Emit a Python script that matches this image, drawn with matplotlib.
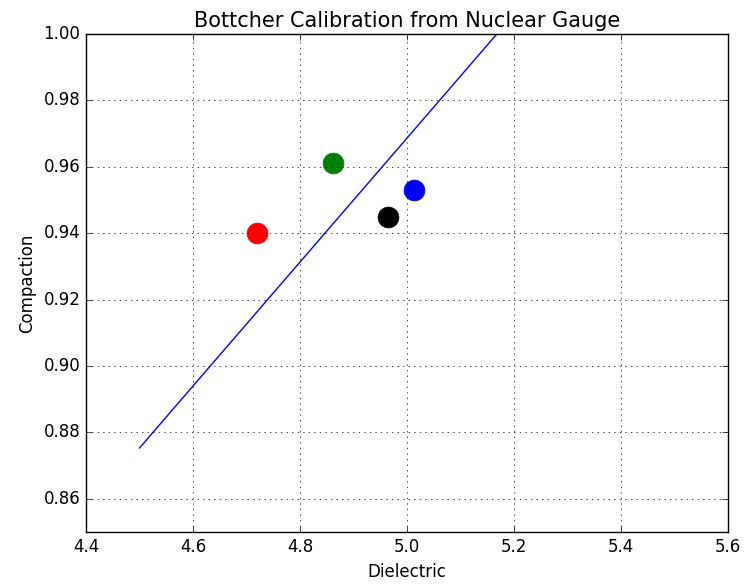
import matplotlib
matplotlib.use('Agg')
import matplotlib.pyplot as plt

# Data points (dielectric vs compaction)
dielectric = [4.72, 4.862, 4.965, 5.013]
compaction = [0.940, 0.961, 0.945, 0.953]
point_colors = ['red', 'green', 'black', 'blue']

# Calibration line
line_x = [4.5, 5.5]
line_y = [0.8753, 1.062]

plt.style.use('classic')
plt.rcParams['font.family'] = 'DejaVu Sans'

fig = plt.figure(figsize=(7.49, 5.84), dpi=100, facecolor='white')
ax = fig.add_axes([0.1148, 0.089, 0.8572, 0.8528])

ax.plot(line_x, line_y, color='blue', linewidth=1)
for x, y, c in zip(dielectric, compaction, point_colors):
    ax.plot(x, y, 'o', color=c, markeredgecolor=c, markersize=15)

ax.set_xlim(4.4, 5.6)
ax.set_ylim(0.85, 1.00)
ax.set_xticks([4.4, 4.6, 4.8, 5.0, 5.2, 5.4, 5.6])
ax.set_yticks([0.86, 0.88, 0.90, 0.92, 0.94, 0.96, 0.98, 1.00])
ax.grid(True)
ax.set_title('Bottcher Calibration from Nuclear Gauge', fontsize=15)
ax.set_xlabel('Dielectric')
ax.set_ylabel('Compaction')

fig.savefig('out.png', dpi=100, facecolor='white')
